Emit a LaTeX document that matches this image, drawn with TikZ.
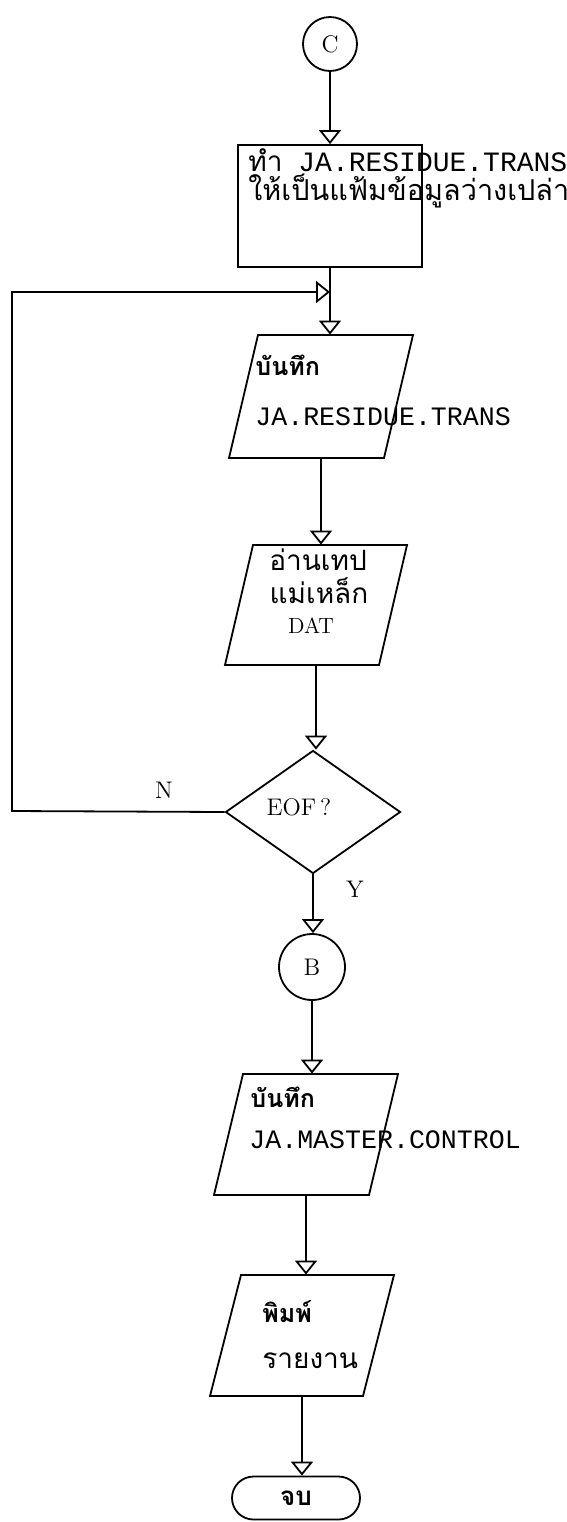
\documentclass[tikz,border=0pt]{standalone}
\usepackage{fontspec}
\newfontfamily\thaifont[Script=Thai]{Loma}
\newfontfamily\typefont{Liberation Mono}
\usetikzlibrary{arrows.meta,shapes.geometric,fit}
\tikzstyle{plainline}=[line width=0.9pt]
\tikzstyle{flowline}=[line width=0.9pt,-{Triangle[open,width=11pt,length=7pt]}]
\tikzstyle{connector}=[draw,circle,line width=0.9pt,minimum size=27pt,inner sep=0,font=\fontsize{12}{14}\selectfont]
\tikzstyle{thaitext}=[inner sep=0,font=\fontsize{14}{16}\selectfont\thaifont]
\tikzstyle{thaibold}=[inner sep=0,font=\fontsize{12.5}{15}\selectfont\thaifont\bfseries]
\tikzstyle{typetext}=[inner sep=0,font=\fontsize{13.3}{16}\selectfont\typefont]
\tikzstyle{romantext}=[inner sep=0,font=\fontsize{12}{14}\selectfont]
\newcommand{\iobox}[6]{% name, top-left x, top y, bottom-left x, bottom y, width
  \draw[plainline] (#2,#3) -- (#2+#6,#3) -- (#4+#6,#5) -- (#4,#5) -- cycle;
  \node[inner sep=0,fit={(#4,#5) (#2+#6,#3)}] (#1) {};
}
\begin{document}
\begin{tikzpicture}[x=0.5pt,y=-0.5pt]
  \useasboundingbox (0,0) rectangle (567,1522);
  % shapes, top to bottom
  \node[connector] (cstart) at (330,44) {C};
  \node[draw,line width=0.9pt,minimum width=92pt,minimum height=61pt] (clear) at (330,206) {};
  \iobox{savetrans}{258}{335}{229}{458}{155}
  \iobox{readdat}{253}{545}{225}{665}{154}
  \node[draw,diamond,line width=0.9pt,minimum width=87.5pt,minimum height=61.5pt,inner sep=0] (eof) at (313,812) {};
  \node[connector,minimum size=33pt] (bstart) at (312,967) {B};
  \iobox{savemaster}{243}{1074}{214}{1195}{155}
  \iobox{printrep}{241}{1275}{210}{1396}{153}
  \node[draw,line width=0.9pt,minimum width=64pt,minimum height=21.5pt,rounded corners=10.75pt,
        font=\fontsize{13}{15}\selectfont\thaifont\bfseries] (stop) at (296,1498) {จบ};
  % texts
  \node[typetext,anchor=base west,font=\fontsize{14}{16}\selectfont\typefont] (cleara) at (248,171)
       {\makebox[25pt][l]{\thaifont ทำ}JA.RESIDUE.TRANS};
  \node[thaitext,anchor=base west,font=\fontsize{14.4}{16}\selectfont\thaifont] (clearb) at (248,200) {ให้เป็นแฟ้มข้อมูลว่างเปล่า};
  \node[thaibold,anchor=base west] (savetransa) at (255,375) {บันทึก};
  \node[typetext,anchor=base west] (savetransb) at (255,425) {JA.RESIDUE.TRANS};
  \node[thaitext,anchor=base] (readdata) at (318,570) {อ่านเทป};
  \node[thaitext,anchor=base] (readdatb) at (319,603) {แม่เหล็ก};
  \node[romantext,anchor=base,font=\fontsize{11}{13}\selectfont] (readdatc) at (311,633) {DAT};
  \node[romantext,anchor=base] (eoftext) at (299,815) {EOF\,?};
  \node[romantext,anchor=base] (nlabel) at (164,798) {N};
  \node[romantext,anchor=base] (ylabel) at (355,897) {Y};
  \node[thaibold,anchor=base west] (savemastera) at (250,1107) {บันทึก};
  \node[typetext,anchor=base west] (savemasterb) at (249,1148) {JA.MASTER.CONTROL};
  \node[thaibold,anchor=base west] (printrepa) at (262,1322) {พิมพ์};
  \node[thaitext,anchor=base west] (printrepb) at (262,1368) {รายงาน};
  % connectors
  \draw[flowline] (cstart.south) -- (cstart.south |- clear.north);
  \draw[flowline] (clear.south) -- (clear.south |- savetrans.north);
  \draw[flowline] (savetrans.south) -- (savetrans.south |- readdat.north);
  \draw[flowline] (readdat.south) -- (readdat.south |- eof.north);
  \draw[flowline] (eof.south) -- (eof.south |- bstart.north);
  \draw[flowline] (bstart.south) -- (bstart.south |- savemaster.north);
  \draw[flowline] (savemaster.south) -- (savemaster.south |- printrep.north);
  \draw[flowline] (printrep.south) -- (printrep.south |- stop.north);
  % loop back on N
  \coordinate (loopbl) at (12,811);
  \coordinate (looptl) at (12,292);
  \draw[flowline] (eof.west) -- (loopbl) -- (looptl) -- (clear.south |- looptl);
\end{tikzpicture}
\end{document}
